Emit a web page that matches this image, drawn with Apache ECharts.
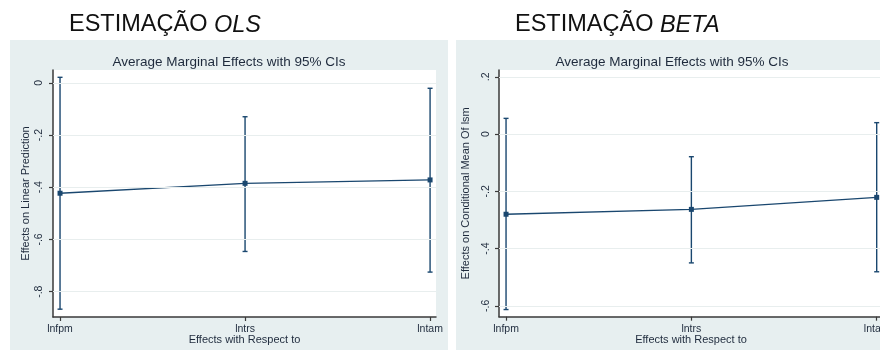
<!DOCTYPE html>
<html>
<head>
<meta charset="utf-8">
<script src="https://cdn.jsdelivr.net/npm/echarts@6/dist/echarts.min.js"></script>
<style>
  html, body { margin: 0; padding: 0; background: #ffffff; overflow: hidden; }
  #chart { width: 880px; height: 352px; }
</style>
</head>
<body>
<div id="chart"></div>
<script>
// Average marginal effects with 95% confidence intervals, OLS vs beta regression
const categories = ['lnfpm', 'lntrs', 'lntam'];

const olsMargin = [-0.423, -0.385, -0.372];
const olsLower  = [-0.867, -0.646, -0.725];
const olsUpper  = [0.021, -0.130, -0.021];

const betaMargin = [-0.280, -0.263, -0.221];
const betaLower  = [-0.613, -0.450, -0.481];
const betaUpper  = [0.055, -0.079, 0.040];

const olsTicks  = [0, -0.2, -0.4, -0.6, -0.8];
const betaTicks = [0.2, 0, -0.2, -0.4, -0.6];
const catTicks  = [0, 1, 2];

const NAVY = '#1a476f';
const AXIS = '#3a3a3a';
const TEXT = '#1e2a3c';
const FONT = '"Liberation Sans", Arial, sans-serif';

// Stata-style tick labels: drop the leading zero ("-.2", ".2")
const fmtTick = v => {
  const r = Math.round(v * 10) / 10;
  if (r === 0) return '0';
  return String(r).replace('0.', '.');
};

function xAxisFor(gridIndex) {
  return {
    gridIndex, type: 'value', min: -0.038, max: gridIndex === 0 ? 2.032 : 2.034,
    name: 'Effects with Respect to', nameLocation: 'middle', nameGap: 17.5, nameMoveOverlap: false,
    nameTextStyle: { fontFamily: FONT, fontSize: 11, color: TEXT },
    axisLine: { show: true, onZero: false, lineStyle: { color: AXIS, width: 1.5 } },
    axisTick: { show: true, length: 4, customValues: catTicks, lineStyle: { color: AXIS, width: 1.2 } },
    axisLabel: { customValues: catTicks, margin: 7, fontFamily: FONT, fontSize: 10.5, color: TEXT,
                 formatter: v => categories[Math.round(v)] },
    splitLine: { show: false }
  };
}

function yAxisFor(gridIndex, min, max, ticks, name, gap, margin) {
  return {
    gridIndex, type: 'value', min, max,
    name, nameLocation: 'middle', nameGap: gap, nameRotate: 90, nameMoveOverlap: false,
    nameTextStyle: { fontFamily: FONT, fontSize: 11, color: TEXT },
    axisLine: { show: true, onZero: false, lineStyle: { color: AXIS, width: 1.5 } },
    axisTick: { show: true, length: 4, customValues: ticks, lineStyle: { color: AXIS, width: 1.2 } },
    axisLabel: { customValues: ticks, rotate: 90, margin, fontFamily: FONT, fontSize: 10.5, color: TEXT,
                 formatter: fmtTick },
    splitLine: { show: false }
  };
}

function pointsOf(values) { return values.map((v, i) => [i, v]); }
function rangesOf(lower, upper) { return lower.map((lo, i) => [i, lo, upper[i]]); }

// Vertical CI bar with small end caps
function ciBar(params, api) {
  const x = api.value(0);
  const a = api.coord([x, api.value(1)]);
  const b = api.coord([x, api.value(2)]);
  const w = 2.5;
  const style = { stroke: NAVY, lineWidth: 1.4 };
  return {
    type: 'group',
    children: [
      { type: 'line', shape: { x1: a[0], y1: a[1], x2: b[0], y2: b[1] }, style },
      { type: 'line', shape: { x1: a[0] - w, y1: a[1], x2: a[0] + w, y2: a[1] }, style },
      { type: 'line', shape: { x1: b[0] - w, y1: b[1], x2: b[0] + w, y2: b[1] }, style }
    ]
  };
}

function gridLines(idx, ticks) {
  return {
    type: 'line', xAxisIndex: idx, yAxisIndex: idx, data: [], z: 1, silent: true,
    markLine: {
      silent: true, symbol: 'none', label: { show: false },
      lineStyle: { color: '#e8eeee', width: 1, type: 'solid' },
      data: ticks.map(t => ({ yAxis: t }))
    }
  };
}

function seriesFor(idx, margin, lower, upper) {
  return [
    {
      type: 'custom', xAxisIndex: idx, yAxisIndex: idx, z: 3,
      renderItem: ciBar, encode: { x: 0, y: [1, 2] },
      data: rangesOf(lower, upper)
    },
    {
      type: 'line', xAxisIndex: idx, yAxisIndex: idx, z: 4,
      data: pointsOf(margin),
      symbol: 'rect', symbolSize: 5, showSymbol: true,
      lineStyle: { color: NAVY, width: 1.3 },
      itemStyle: { color: NAVY }
    }
  ];
}

const chart = echarts.init(document.getElementById('chart'), null, { renderer: 'canvas' });

chart.setOption({
  animation: false,
  backgroundColor: '#ffffff',
  graphic: [
    { type: 'rect', z: -10, shape: { x: 10, y: 40, width: 438, height: 310 }, style: { fill: '#e7eff0' } },
    { type: 'rect', z: -10, shape: { x: 456, y: 40, width: 440, height: 310 }, style: { fill: '#e7eff0' } },
    { type: 'text', x: 69, y: 25, style: {
        text: '{n|ESTIMAÇÃO }{i|OLS}', verticalAlign: 'middle', align: 'left',
        rich: { n: { fontFamily: FONT, fontSize: 23.5, fill: '#111111' },
                i: { fontFamily: FONT, fontSize: 23.5, fontStyle: 'italic', fill: '#111111' } } } },
    { type: 'text', x: 515, y: 25, style: {
        text: '{n|ESTIMAÇÃO }{i|BETA}', verticalAlign: 'middle', align: 'left',
        rich: { n: { fontFamily: FONT, fontSize: 23.5, fill: '#111111' },
                i: { fontFamily: FONT, fontSize: 23.5, fontStyle: 'italic', fill: '#111111' } } } },
    { type: 'text', x: 229, y: 62, style: {
        text: 'Average Marginal Effects with 95% CIs', align: 'center', verticalAlign: 'middle',
        fontFamily: FONT, fontSize: 13.5, fill: TEXT } },
    { type: 'text', x: 672, y: 62, style: {
        text: 'Average Marginal Effects with 95% CIs', align: 'center', verticalAlign: 'middle',
        fontFamily: FONT, fontSize: 13.5, fill: TEXT } }
  ],
  grid: [
    { left: 53, top: 70, width: 383, height: 247, show: true, backgroundColor: '#ffffff', borderWidth: 0,
      outerBoundsMode: 'none' },
    { left: 499, top: 70, width: 384, height: 246.7, show: true, backgroundColor: '#ffffff', borderWidth: 0,
      outerBoundsMode: 'none' }
  ],
  xAxis: [xAxisFor(0), xAxisFor(1)],
  yAxis: [
    yAxisFor(0, -0.897, 0.049, olsTicks, 'Effects on Linear Prediction', 21.5, 8),
    yAxisFor(1, -0.638, 0.224, betaTicks, 'Effects on Conditional Mean Of lsm', 27.8, 7)
  ],
  series: [
    gridLines(0, olsTicks),
    gridLines(1, betaTicks),
    ...seriesFor(0, olsMargin, olsLower, olsUpper),
    ...seriesFor(1, betaMargin, betaLower, betaUpper)
  ]
});
</script>
</body>
</html>
